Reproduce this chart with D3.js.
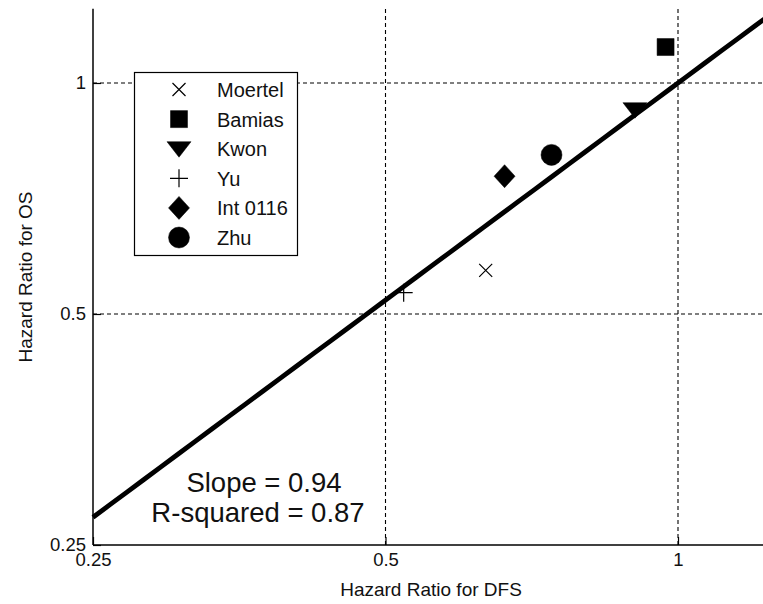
<!DOCTYPE html>
<html>
<head>
<meta charset="utf-8">
<script src="https://cdn.jsdelivr.net/npm/d3@7"></script>
<style>
  html, body { margin: 0; padding: 0; background: #fff; }
  svg { display: block; font-family: "Liberation Sans", Arial, sans-serif; }
</style>
</head>
<body>
<div id="chart"></div>
<script>
// ========================
// Data
// ========================
const studies   = ["Moertel", "Bamias", "Kwon", "Yu", "Int 0116", "Zhu"];
const markers   = ["x", "square", "triangle", "plus", "diamond", "circle"];
const hrDFS     = [0.634, 0.971, 0.903, 0.522, 0.663, 0.741];
const hrOS      = [0.570, 1.114, 0.923, 0.533, 0.756, 0.806];
const xTicks    = [0.25, 0.5, 1];
const yTicks    = [0.25, 0.5, 1];
const fitSlope  = 0.94;
const fitCoef   = 1.0;     // OS = fitCoef * DFS^fitSlope
const rSquared  = 0.87;

// ========================
// Setup
// ========================
const width = 763, height = 604;
const left = 93, bottom = 545;
const xDecade = 292.5;   // px per doubling on x
const yDecade = 231;     // px per doubling on y
const axisMax = 1.25;

const x = d3.scaleLog()
    .domain([0.25, axisMax])
    .range([left, left + xDecade * Math.log2(axisMax / 0.25)]);
const y = d3.scaleLog()
    .domain([0.25, axisMax])
    .range([bottom, bottom - yDecade * Math.log2(axisMax / 0.25)]);

const svg = d3.select("#chart").append("svg")
    .attr("width", width)
    .attr("height", height);

// marker shapes, centred on 0,0
function markerPath(type) {
    const p = d3.path();
    if (type === "x") {
        p.moveTo(-6.5, -6.5); p.lineTo(6.5, 6.5);
        p.moveTo(-6.5, 6.5); p.lineTo(6.5, -6.5);
    } else if (type === "plus") {
        p.moveTo(-9, 0); p.lineTo(9, 0);
        p.moveTo(0, -9); p.lineTo(0, 9);
    } else if (type === "square") {
        p.rect(-8.5, -8.5, 17, 17);
    } else if (type === "triangle") {
        p.moveTo(-12, -7); p.lineTo(12, -7); p.lineTo(0, 8.5); p.closePath();
    } else if (type === "diamond") {
        p.moveTo(0, -11.5); p.lineTo(10.5, 0); p.lineTo(0, 11.5); p.lineTo(-10.5, 0); p.closePath();
    } else if (type === "circle") {
        p.arc(0, 0, 10.5, 0, 2 * Math.PI);
    }
    return p.toString();
}
const isStroke = t => t === "x" || t === "plus";

// ========================
// Grid (dashed, at inner ticks)
// ========================
const plotTop = y(axisMax);
svg.append("g").selectAll("line")
    .data(xTicks.filter(t => t > 0.25))
    .join("line")
    .attr("x1", d => x(d)).attr("x2", d => x(d))
    .attr("y1", bottom).attr("y2", plotTop)
    .attr("stroke", "#000").attr("stroke-width", 1.1)
    .attr("stroke-dasharray", "4,3");

svg.append("g").selectAll("line")
    .data(yTicks.filter(t => t > 0.25))
    .join("line")
    .attr("x1", left).attr("x2", width)
    .attr("y1", d => y(d)).attr("y2", d => y(d))
    .attr("stroke", "#000").attr("stroke-width", 1.1)
    .attr("stroke-dasharray", "4,3");

// ========================
// Axes
// ========================
const xAxis = svg.append("g")
    .attr("transform", `translate(0,${bottom})`)
    .call(d3.axisBottom(x).tickValues(xTicks).tickFormat(d3.format("")).tickSizeInner(-8).tickSizeOuter(0).tickPadding(8));
const yAxis = svg.append("g")
    .attr("transform", `translate(${left},0)`)
    .call(d3.axisLeft(y).tickValues(yTicks).tickFormat(d3.format("")).tickSizeInner(-8).tickSizeOuter(0).tickPadding(7));

[xAxis, yAxis].forEach(g => {
    g.select(".domain").attr("stroke", "#000").attr("stroke-width", 1.5);
    g.selectAll(".tick line").attr("stroke", "#000").attr("stroke-width", 1.2);
    g.selectAll(".tick text")
        .attr("fill", "#111")
        .style("font-size", "18.5px")
        .style("font-family", "'Liberation Sans', Arial, sans-serif");
});
// stretch x domain line to the right edge
xAxis.select(".domain").attr("d", `M${left},0H${width}`);
yAxis.select(".domain").attr("d", `M0,${bottom}V${plotTop}`);

// axis titles
svg.append("text")
    .attr("x", 431).attr("y", 596)
    .attr("text-anchor", "middle")
    .attr("fill", "#111")
    .style("font-size", "19px")
    .text("Hazard Ratio for DFS");

svg.append("text")
    .attr("transform", `translate(32,277) rotate(-90)`)
    .attr("text-anchor", "middle")
    .attr("fill", "#111")
    .style("font-size", "19px")
    .text("Hazard Ratio for OS");

// ========================
// Regression line
// ========================
const fitX = d3.range(0, 41).map(i => 0.25 * Math.pow(axisMax / 0.25, i / 40));
svg.append("path")
    .datum(fitX)
    .attr("fill", "none")
    .attr("stroke", "#000")
    .attr("stroke-width", 4.8)
    .attr("d", d3.line()
        .x(d => x(d))
        .y(d => y(fitCoef * Math.pow(d, fitSlope))));

// ========================
// Study points
// ========================
svg.append("g").selectAll("path")
    .data(studies.map((s, i) => ({ name: s, type: markers[i], dfs: hrDFS[i], os: hrOS[i] })))
    .join("path")
    .attr("transform", d => `translate(${x(d.dfs)},${y(d.os)})`)
    .attr("d", d => markerPath(d.type))
    .attr("fill", d => isStroke(d.type) ? "none" : "#000")
    .attr("stroke", "#000")
    .attr("stroke-width", d => isStroke(d.type) ? 1.2 : 0.5);

// ========================
// Fit annotation
// ========================
svg.append("text")
    .attr("x", 264).attr("y", 492)
    .attr("text-anchor", "middle")
    .attr("fill", "#111")
    .style("font-size", "27.5px")
    .text(`Slope = ${fitSlope.toFixed(2)}`);
svg.append("text")
    .attr("x", 258).attr("y", 522)
    .attr("text-anchor", "middle")
    .attr("fill", "#111")
    .style("font-size", "27.5px")
    .text(`R-squared = ${rSquared.toFixed(2)}`);

// ========================
// Legend
// ========================
const legend = svg.append("g");
legend.append("rect")
    .attr("x", 134.5).attr("y", 72.5)
    .attr("width", 163).attr("height", 183)
    .attr("fill", "#fff")
    .attr("stroke", "#000").attr("stroke-width", 1.2);

const rowY = d3.scalePoint().domain(studies).range([89.5, 237.5]);
const rows = legend.selectAll(".row")
    .data(studies.map((s, i) => ({ name: s, type: markers[i] })))
    .join("g")
    .attr("class", "row")
    .attr("transform", d => `translate(0,${rowY(d.name)})`);

rows.append("path")
    .attr("transform", "translate(179,0)")
    .attr("d", d => markerPath(d.type))
    .attr("fill", d => isStroke(d.type) ? "none" : "#000")
    .attr("stroke", "#000")
    .attr("stroke-width", d => isStroke(d.type) ? 1.2 : 0.5);

rows.append("text")
    .attr("x", 217).attr("y", 7.5)
    .attr("fill", "#111")
    .style("font-size", "20px")
    .text(d => d.name);
</script>
</body>
</html>
